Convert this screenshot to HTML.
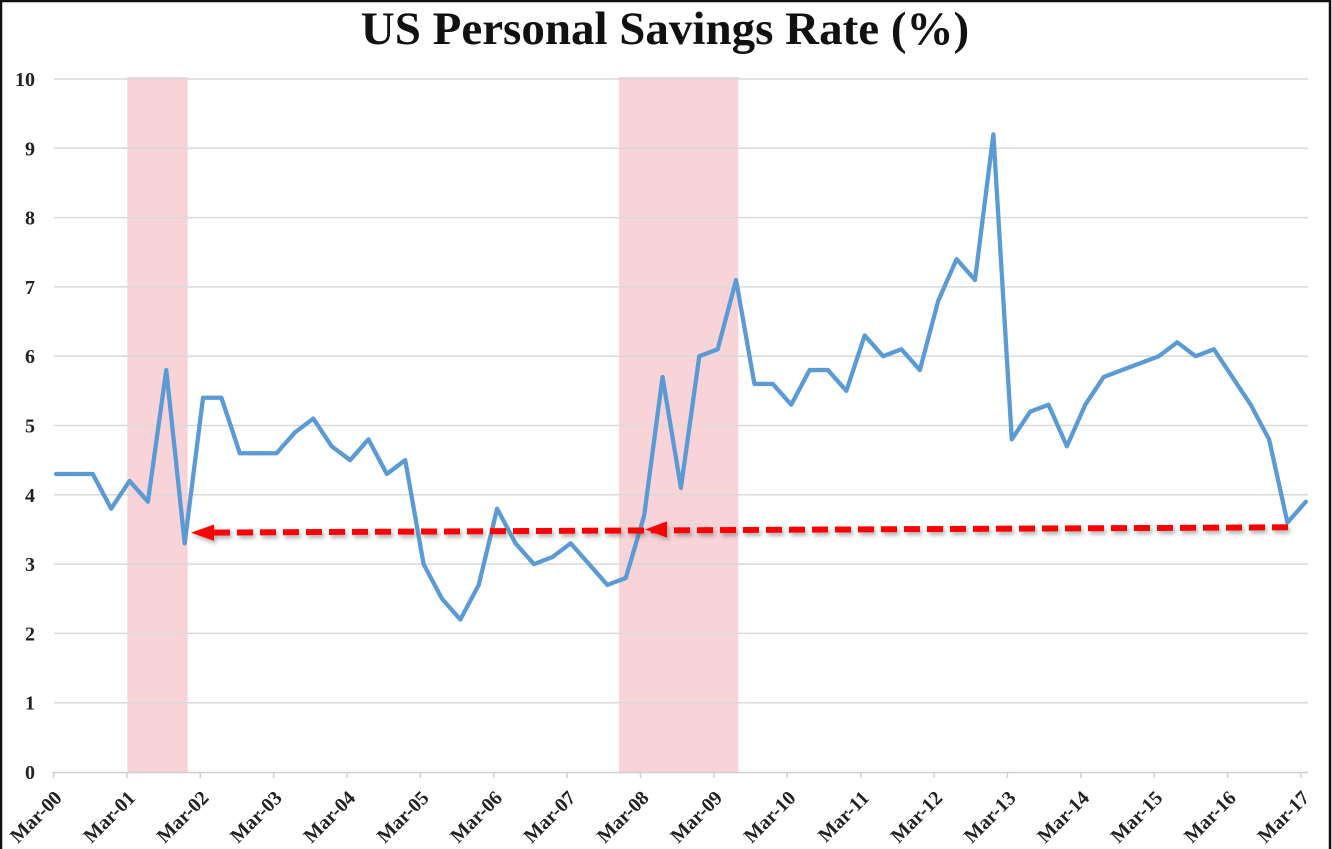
<!DOCTYPE html>
<html>
<head>
<meta charset="utf-8">
<style>
  html, body { margin:0; padding:0; background:#fff; }
  body { width:1332px; height:849px; overflow:hidden; }
  svg { display:block; }
  .yl { font-family:"Liberation Serif", serif; font-weight:bold; font-size:20px; fill:#222; }
  .xl { font-family:"Liberation Serif", serif; font-weight:bold; font-size:20px; fill:#222; }
</style>
</head>
<body>
<svg width="1332" height="849" viewBox="0 0 1332 849" xmlns="http://www.w3.org/2000/svg">
  <defs>
    <filter id="sh" x="-5%" y="-200%" width="110%" height="500%">
      <feDropShadow dx="2" dy="3" stdDeviation="2" flood-color="#555" flood-opacity="0.45"/>
    </filter>
  </defs>
  <rect x="0" y="0" width="1332" height="849" fill="#fff"/>
  <!-- frame -->
  <rect x="1" y="1" width="1329" height="860" fill="none" stroke="#111" stroke-width="2.5"/>

  <!-- title -->
  <text x="665" y="44" text-anchor="middle" font-family="Liberation Serif, serif" font-weight="bold" font-size="47" fill="#111">US Personal Savings Rate (%)</text>

  <!-- recession bands -->
  <rect x="127.3" y="77" width="60.4" height="695" fill="#f8d4d8"/>
  <rect x="619" y="77" width="119.3" height="695" fill="#f8d4d8"/>

  <!-- gridlines -->
  <g stroke="#d9d9d9" stroke-width="1.5">
    <line x1="54" y1="79" x2="1308" y2="79"/>
    <line x1="54" y1="148.3" x2="1308" y2="148.3"/>
    <line x1="54" y1="217.6" x2="1308" y2="217.6"/>
    <line x1="54" y1="286.9" x2="1308" y2="286.9"/>
    <line x1="54" y1="356.2" x2="1308" y2="356.2"/>
    <line x1="54" y1="425.5" x2="1308" y2="425.5"/>
    <line x1="54" y1="494.8" x2="1308" y2="494.8"/>
    <line x1="54" y1="564.1" x2="1308" y2="564.1"/>
    <line x1="54" y1="633.4" x2="1308" y2="633.4"/>
    <line x1="54" y1="702.7" x2="1308" y2="702.7"/>
  </g>
  <!-- x axis -->
  <g stroke="#cfcfcf" stroke-width="1.5">
    <line x1="53" y1="772.5" x2="1308" y2="772.5"/>
    <line x1="53.5" y1="772" x2="53.5" y2="778"/>
    <line x1="126.9" y1="772" x2="126.9" y2="778"/>
    <line x1="200.3" y1="772" x2="200.3" y2="778"/>
    <line x1="273.6" y1="772" x2="273.6" y2="778"/>
    <line x1="347" y1="772" x2="347" y2="778"/>
    <line x1="420.4" y1="772" x2="420.4" y2="778"/>
    <line x1="493.8" y1="772" x2="493.8" y2="778"/>
    <line x1="567.2" y1="772" x2="567.2" y2="778"/>
    <line x1="640.5" y1="772" x2="640.5" y2="778"/>
    <line x1="713.9" y1="772" x2="713.9" y2="778"/>
    <line x1="787.3" y1="772" x2="787.3" y2="778"/>
    <line x1="860.7" y1="772" x2="860.7" y2="778"/>
    <line x1="934.1" y1="772" x2="934.1" y2="778"/>
    <line x1="1007.4" y1="772" x2="1007.4" y2="778"/>
    <line x1="1080.8" y1="772" x2="1080.8" y2="778"/>
    <line x1="1154.2" y1="772" x2="1154.2" y2="778"/>
    <line x1="1227.6" y1="772" x2="1227.6" y2="778"/>
    <line x1="1301" y1="772" x2="1301" y2="778"/>
  </g>

  <!-- y labels -->
  <g class="yl" text-anchor="end">
    <text x="35" y="86">10</text>
    <text x="35" y="155.3">9</text>
    <text x="35" y="224.6">8</text>
    <text x="35" y="293.9">7</text>
    <text x="35" y="363.2">6</text>
    <text x="35" y="432.5">5</text>
    <text x="35" y="501.8">4</text>
    <text x="35" y="571.1">3</text>
    <text x="35" y="640.4">2</text>
    <text x="35" y="709.7">1</text>
    <text x="35" y="779">0</text>
  </g>

  <!-- x labels -->
  <g class="xl" text-anchor="end">
    <text transform="translate(63,799) rotate(-45)">Mar-00</text>
    <text transform="translate(136.4,799) rotate(-45)">Mar-01</text>
    <text transform="translate(209.8,799) rotate(-45)">Mar-02</text>
    <text transform="translate(283.1,799) rotate(-45)">Mar-03</text>
    <text transform="translate(356.5,799) rotate(-45)">Mar-04</text>
    <text transform="translate(429.9,799) rotate(-45)">Mar-05</text>
    <text transform="translate(503.3,799) rotate(-45)">Mar-06</text>
    <text transform="translate(576.7,799) rotate(-45)">Mar-07</text>
    <text transform="translate(650,799) rotate(-45)">Mar-08</text>
    <text transform="translate(723.4,799) rotate(-45)">Mar-09</text>
    <text transform="translate(796.8,799) rotate(-45)">Mar-10</text>
    <text transform="translate(870.2,799) rotate(-45)">Mar-11</text>
    <text transform="translate(943.6,799) rotate(-45)">Mar-12</text>
    <text transform="translate(1016.9,799) rotate(-45)">Mar-13</text>
    <text transform="translate(1090.3,799) rotate(-45)">Mar-14</text>
    <text transform="translate(1163.7,799) rotate(-45)">Mar-15</text>
    <text transform="translate(1237.1,799) rotate(-45)">Mar-16</text>
    <text transform="translate(1310.5,799) rotate(-45)">Mar-17</text>
  </g>

  <!-- savings rate series -->
  <polyline fill="none" stroke="#5b9bd5" stroke-width="4.3" stroke-linejoin="round" stroke-linecap="round"
    points="56,474 74.38,474 92.76,474 111.14,508.66 129.52,480.94 147.9,501.73 166.28,370.06 184.66,543.31 203.04,397.78 221.42,397.78 239.8,453.22 258.18,453.22 276.56,453.22 294.94,432.43 313.32,418.57 331.7,446.29 350.08,460.15 368.46,439.36 386.84,474 405.22,460.15 423.6,564.1 441.98,598.75 460.36,619.54 478.74,584.89 497.12,508.66 515.5,543.31 533.88,564.1 552.26,557.17 570.64,543.31 589.02,564.1 607.4,584.89 625.78,577.96 644.16,515.59 662.54,376.99 680.92,487.87 699.3,356.2 717.68,349.27 736.06,279.97 754.44,383.92 772.82,383.92 791.2,404.71 809.58,370.06 827.96,370.06 846.34,390.85 864.72,335.41 883.1,356.2 901.48,349.27 919.86,370.06 938.24,300.76 956.62,259.18 975,279.97 993.38,134.44 1011.76,439.36 1030.14,411.64 1048.52,404.71 1066.9,446.29 1085.28,404.71 1103.66,376.99 1122.04,370.06 1140.42,363.13 1158.8,356.2 1177.18,342.34 1195.56,356.2 1213.94,349.27 1232.32,376.99 1250.7,404.71 1269.08,439.36 1287.46,522.52 1305.84,501.73"/>

  <!-- red dashed arrow -->
  <g filter="url(#sh)">
    <line x1="1288" y1="527.3" x2="208" y2="532.6" stroke="#ff0000" stroke-width="6" stroke-dasharray="16 7"/>
    <polygon points="191,532.7 214,524.5 214,540.9" fill="#ff0000"/>
    <polygon points="645,529.5 667,521.4 667,537.6" fill="#ff0000"/>
  </g>
</svg>
</body>
</html>
